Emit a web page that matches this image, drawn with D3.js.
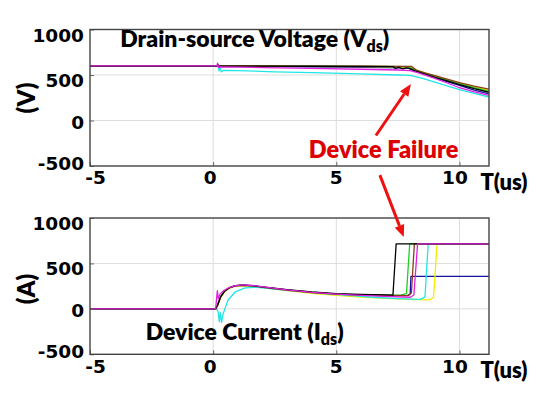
<!DOCTYPE html>
<html>
<head>
<meta charset="utf-8">
<script src="https://cdn.jsdelivr.net/npm/d3@7"></script>
<style>
  body { margin: 0; background: #fff; }
  svg { display: block; }
</style>
</head>
<body>
<div id="chart"></div>
<script>
// axis setup
const timeTicks = [-5, 0, 5, 10];
const valueTicks = [-500, 0, 500, 1000];
const timeDomain = [-5, 11.2];
const valueDomain = [-500, 1000];

// drain-source voltage traces, [t (us), V]
const vdsBlack = [[-5, 598], [0.15, 598], [0.2, 612], [0.24, 590], [0.3, 598], [2, 597], [4, 596], [6, 594], [7.3, 593], [7.4, 572], [7.55, 584], [7.7, 566], [7.85, 578], [8.0, 570], [8.2, 545], [8.6, 510], [9, 475], [9.5, 435], [10, 395], [10.6, 350], [11.2, 310]];
const vdsGreen = [[-5, 598], [0.15, 598], [0.2, 608], [0.25, 594], [0.3, 598], [3, 596], [6, 594], [7.9, 592], [8.0, 580], [8.2, 552], [8.6, 518], [9, 484], [9.5, 445], [10, 405], [10.6, 360], [11.2, 320]];
const vdsBrown = [[-5, 600], [0.15, 600], [0.2, 610], [0.25, 595], [0.3, 600], [3, 598], [6, 597], [8.05, 595], [8.25, 555], [8.6, 524], [9, 492], [9.5, 455], [10, 415], [10.6, 378], [11.2, 345]];
const vdsBlue = [[-5, 598], [0.15, 598], [0.2, 606], [0.25, 594], [0.3, 597], [3, 592], [6, 585], [7.9, 578], [8.05, 560], [8.3, 535], [8.7, 500], [9, 472], [9.5, 428], [10, 385], [10.6, 335], [11.2, 292]];
const vdsYellow = [[-5, 598], [0.15, 598], [0.2, 607], [0.25, 594], [0.3, 598], [3, 595], [6, 592], [8.0, 588], [8.2, 560], [8.6, 524], [9, 490], [9.5, 452], [10, 412], [10.6, 368], [11.2, 332]];
const vdsCyan = [[-5, 600], [0.2, 600], [0.24, 545], [0.28, 580], [0.33, 535], [0.4, 550], [1, 548], [2.5, 535], [4, 525], [6, 512], [7.5, 500], [8.0, 495], [8.5, 462], [9, 422], [9.5, 380], [10, 340], [10.6, 298], [11.2, 258]];
const vdsMagenta = [[-5, 600], [0.15, 600], [0.18, 630], [0.22, 585], [0.3, 590], [2, 582], [4, 573], [6, 563], [7.5, 555], [8.0, 548], [8.3, 525], [8.7, 490], [9, 462], [9.5, 412], [10, 360], [10.6, 315], [11.2, 275]];

// device current traces, [t (us), A]
const idsBlack = [[-5, 0], [0.1, 0], [0.18, 40], [0.3, 130], [0.45, 190], [0.65, 232], [0.9, 255], [1.2, 262], [1.6, 256], [2.2, 236], [3, 211], [4, 186], [5, 168], [6, 158], [7, 153], [7.3, 152], [7.43, 715], [11.2, 715]];
const idsGreen = [[-5, 0], [0.1, 0], [0.18, 45], [0.3, 135], [0.45, 192], [0.65, 233], [0.9, 255], [1.2, 261], [1.6, 254], [2.2, 234], [3, 208], [4, 183], [5, 165], [6, 155], [7, 150], [7.6, 152], [7.85, 168], [7.98, 715], [11.2, 715]];
const idsBrown = [[-5, 0], [0.1, 0], [0.18, 42], [0.3, 132], [0.45, 190], [0.65, 231], [0.9, 254], [1.2, 260], [1.6, 253], [2.2, 232], [3, 206], [4, 180], [5, 162], [6, 152], [7, 147], [7.9, 146], [8.05, 175], [8.17, 715], [11.2, 715]];
const idsBlue = [[-5, 0], [0.1, 0], [0.18, 40], [0.3, 128], [0.45, 188], [0.65, 230], [0.9, 253], [1.2, 259], [1.6, 252], [2.2, 231], [3, 205], [4, 179], [5, 161], [6, 151], [7, 146], [7.9, 148], [8.0, 160], [8.03, 357], [11.2, 357]];
const idsYellow = [[-5, 0], [0.1, 0], [0.18, 35], [0.3, 120], [0.45, 182], [0.65, 226], [0.9, 250], [1.2, 257], [1.6, 250], [2.2, 228], [3, 200], [4, 170], [5, 148], [6, 130], [7, 116], [8, 104], [8.8, 98], [8.95, 130], [9.09, 715], [11.2, 715]];
const idsCyan = [[-5, 0], [0.15, 0], [0.2, -30], [0.25, -140], [0.29, -40], [0.34, -150], [0.4, -60], [0.6, 95], [0.9, 188], [1.3, 232], [1.8, 238], [2.5, 218], [3.5, 192], [4.5, 168], [5.5, 148], [6.5, 128], [7.5, 113], [8.4, 104], [8.6, 130], [8.73, 715], [11.2, 715]];
const idsMagenta = [[-5, 0], [0.1, 0], [0.17, 200], [0.21, 110], [0.28, 165], [0.45, 205], [0.65, 235], [0.9, 256], [1.2, 263], [1.6, 257], [2.2, 236], [3, 209], [4, 182], [5, 162], [6, 148], [7, 138], [8.0, 128], [8.15, 152], [8.3, 715], [11.2, 715]];

const vdsTraces = { blue: vdsBlue, yellow: vdsYellow, cyan: vdsCyan, green: vdsGreen, brown: vdsBrown, black: vdsBlack, magenta: vdsMagenta };
const idsTraces = { blue: idsBlue, yellow: idsYellow, cyan: idsCyan, green: idsGreen, brown: idsBrown, black: idsBlack, magenta: idsMagenta };

// annotation anchors in data units
const arrowUp = { from: [6.61, -165], to: [8.03, 400] };          // top panel
const arrowDown = { from: [6.77, -600], to: [7.74, 790] };        // tail top panel, head bottom panel
const failureLabel = [6.92, -410];

const colors = {
  black: "#000000", green: "#22cc22", brown: "#8b3a1a", blue: "#1414a0",
  yellow: "#eeee00", cyan: "#22e6e6", magenta: "#e020e0"
};

const W = 552, H = 399;
const plotL = 90, plotR = 489;
const labelFont = "Lato, 'Open Sans', sans-serif";
const tickFont = "'DejaVu Sans', Verdana, sans-serif";
// small nudges so edge labels sit inside, like the original export
const yLabelShift = { "1000": 5, "500": 4.5, "0": 1.5, "-500": -3.5 };
const xLabelShift = { "-5": 5, "0": -3.5, "5": -0.5, "10": -5 };

const svg = d3.select("#chart").append("svg")
  .attr("width", W).attr("height", H)
  .attr("viewBox", [0, 0, W, H]);

const x = d3.scaleLinear().domain(timeDomain).range([plotL, plotR]);
const yTop = d3.scaleLinear().domain(valueDomain).range([166, 29.5]);
const yBot = d3.scaleLinear().domain(valueDomain).range([354.3, 218]);
const fmt = d => String(d);

function panel(y, traces, id) {
  const g = svg.append("g");
  const top = y.range()[1], bottom = y.range()[0];

  g.append("clipPath").attr("id", id)
    .append("rect").attr("x", plotL).attr("y", top)
    .attr("width", plotR - plotL).attr("height", bottom - top);

  // grid
  g.append("g").selectAll("line").data(timeTicks.filter(t => t > timeDomain[0])).join("line")
    .attr("x1", d => x(d)).attr("x2", d => x(d))
    .attr("y1", top).attr("y2", bottom)
    .attr("stroke", "#dddddd").attr("stroke-width", 1);
  g.append("g").selectAll("line").data(valueTicks.filter(v => v > valueDomain[0] && v < valueDomain[1])).join("line")
    .attr("x1", plotL).attr("x2", plotR)
    .attr("y1", d => y(d)).attr("y2", d => y(d))
    .attr("stroke", "#dddddd").attr("stroke-width", 1);

  // traces
  const line = d3.line().x(d => x(d[0])).y(d => y(d[1]));
  g.append("g").attr("clip-path", `url(#${id})`)
    .selectAll("path").data(Object.entries(traces)).join("path")
    .attr("d", d => line(d[1]))
    .attr("fill", "none")
    .attr("stroke", d => colors[d[0]])
    .attr("stroke-width", 1.3)
    .attr("stroke-linejoin", "round");

  // axes
  const ax = g.append("g").attr("transform", `translate(0,${bottom})`)
    .call(d3.axisBottom(x).tickValues(timeTicks).tickFormat(fmt).tickSizeInner(-4).tickSizeOuter(0).tickPadding(10));
  const ay = g.append("g").attr("transform", `translate(${plotL},0)`)
    .call(d3.axisLeft(y).tickValues(valueTicks).tickFormat(fmt).tickSizeInner(-4).tickSizeOuter(0).tickPadding(6));
  [ax, ay].forEach(a => {
    a.select(".domain").remove();
    a.selectAll(".tick line").attr("stroke", "#666");
    a.selectAll(".tick text")
      .attr("font-family", tickFont).attr("font-weight", "bold")
      .attr("font-size", 18.5).attr("fill", "#000");
  });
  ax.selectAll(".tick text").attr("dy", "0.45em").attr("dx", d => xLabelShift[d] || 0);
  ay.selectAll(".tick text").attr("dy", null)
    .attr("transform", d => `translate(0,${(yLabelShift[d] || 0) + 6.5})`);

  // frame
  g.append("rect").attr("x", plotL).attr("y", top)
    .attr("width", plotR - plotL).attr("height", bottom - top)
    .attr("fill", "none").attr("stroke", "#444").attr("stroke-width", 1.4);

  // time unit
  g.append("text").attr("x", x(10.85)).attr("y", bottom + 24)
    .attr("font-family", labelFont).attr("font-weight", 800).attr("font-size", 22)
    .attr("fill", "#000").text("T(us)");
  return g;
}

panel(yTop, vdsTraces, "clipTop");
panel(yBot, idsTraces, "clipBot");

// y labels
function yLabel(cy, txt) {
  svg.append("text").attr("transform", `translate(27,${cy}) rotate(-90)`)
    .attr("text-anchor", "middle").attr("dy", "0.35em")
    .attr("font-family", labelFont).attr("font-weight", 800).attr("font-size", 24)
    .attr("fill", "#000").text(txt);
}
yLabel(98, "(V)");
yLabel(289, "(A)");

// panel titles with subscript
function title(tx, ty, main) {
  const t = svg.append("text").attr("x", tx).attr("y", ty)
    .attr("font-family", labelFont).attr("font-weight", 800).attr("font-size", 23)
    .attr("fill", "#000");
  t.append("tspan").text(main);
  t.append("tspan").attr("font-size", 16).attr("dy", 5).text("ds");
  t.append("tspan").attr("dy", -5).text(")");
}
title(x(-3.77), yTop(810), "Drain-source Voltage (V");
title(x(-2.74), yBot(-345), "Device Current (I");

// failure annotation
svg.append("text").attr("x", x(failureLabel[0])).attr("y", yTop(failureLabel[1]))
  .attr("text-anchor", "middle")
  .attr("font-family", labelFont).attr("font-weight", 800).attr("font-size", 23.5)
  .attr("fill", "#dd0000").text("Device Failure");

function arrow(x1, y1, x2, y2) {
  const ang = Math.atan2(y2 - y1, x2 - x1);
  const len = 12, half = 5;
  const bx = x2 - len * Math.cos(ang), by = y2 - len * Math.sin(ang);
  svg.append("line").attr("x1", x1).attr("y1", y1).attr("x2", bx).attr("y2", by)
    .attr("stroke", "#ee1111").attr("stroke-width", 3);
  const px = -Math.sin(ang) * half, py = Math.cos(ang) * half;
  svg.append("path")
    .attr("d", `M${x2},${y2}L${bx + px},${by + py}L${bx - px},${by - py}Z`)
    .attr("fill", "#ee1111");
}
arrow(x(arrowUp.from[0]), yTop(arrowUp.from[1]), x(arrowUp.to[0]), yTop(arrowUp.to[1]));
arrow(x(arrowDown.from[0]), yTop(arrowDown.from[1]), x(arrowDown.to[0]), yBot(arrowDown.to[1]));
</script>
</body>
</html>
